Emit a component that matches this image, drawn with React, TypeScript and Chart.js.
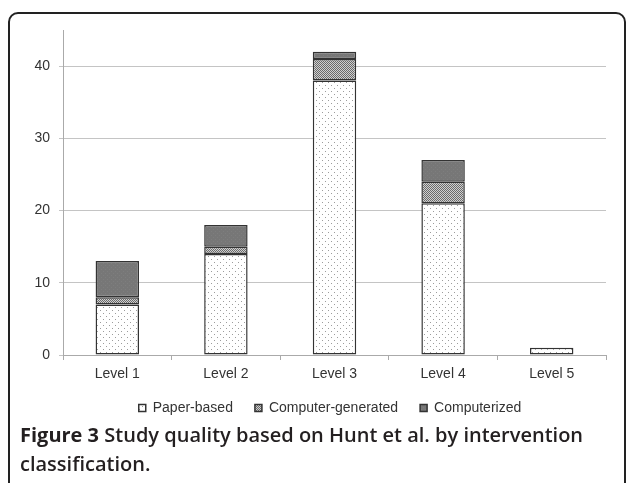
import React, { useEffect, useRef } from "react";
import { Chart, registerables } from "chart.js";

Chart.register(...registerables);

const categories = ["Level 1", "Level 2", "Level 3", "Level 4", "Level 5"];
const paperBased = [7, 14, 38, 21, 1];
const computerGenerated = [1, 1, 3, 3, 0];
const computerized = [5, 3, 1, 3, 0];
const yTicks = [0, 10, 20, 30, 40];
const seriesNames = ["Paper-based", "Computer-generated", "Computerized"];
const captionBold = "Figure 3";
const captionRest = "Study quality based on Hunt et al. by intervention classification.";

function makePattern(kind: string): CanvasPattern | string {
  const c = document.createElement("canvas");
  const ctx = c.getContext("2d");
  if (!ctx) return "#999";
  if (kind === "dots") {
    c.width = 6;
    c.height = 6;
    ctx.fillStyle = "#ffffff";
    ctx.fillRect(0, 0, 6, 6);
    ctx.fillStyle = "#9c9c9c";
    ctx.fillRect(1, 1, 1, 1);
    ctx.fillRect(4, 4, 1, 1);
  } else if (kind === "zigzag") {
    c.width = 4;
    c.height = 4;
    ctx.fillStyle = "#d0d0d0";
    ctx.fillRect(0, 0, 4, 4);
    ctx.fillStyle = "#6a6a6a";
    ctx.fillRect(0, 0, 1, 1);
    ctx.fillRect(1, 1, 1, 1);
    ctx.fillRect(2, 0, 1, 1);
    ctx.fillRect(3, 1, 1, 1);
    ctx.fillRect(0, 2, 1, 1);
    ctx.fillRect(2, 2, 1, 1);
    ctx.fillRect(1, 3, 1, 1);
    ctx.fillRect(3, 3, 1, 1);
  } else {
    c.width = 4;
    c.height = 4;
    ctx.fillStyle = "#777777";
    ctx.fillRect(0, 0, 4, 4);
    ctx.fillStyle = "#7e7e7e";
    ctx.fillRect(1, 1, 1, 1);
    ctx.fillRect(3, 3, 1, 1);
  }
  return ctx.createPattern(c, "repeat") || "#999";
}

const legendShift = {
  id: "legendShift",
  afterLayout(chart: any) {
    const l = chart.legend;
    if (l) {
      l.left += 27;
      l.right += 27;
    }
  },
};

export default function App() {
  const ref = useRef<HTMLCanvasElement | null>(null);

  useEffect(() => {
    if (!ref.current) return;
    const border = "#333333";
    const font = { family: "'Liberation Sans', Arial, sans-serif", size: 14 };
    const chart = new Chart(ref.current, {
      type: "bar",
      data: {
        labels: categories,
        datasets: [
          {
            label: seriesNames[0],
            data: paperBased,
            backgroundColor: makePattern("dots") as any,
            borderColor: border,
            borderWidth: 1.5,
            borderSkipped: false,
          },
          {
            label: seriesNames[1],
            data: computerGenerated,
            backgroundColor: makePattern("zigzag") as any,
            borderColor: border,
            borderWidth: 1.5,
            borderSkipped: false,
          },
          {
            label: seriesNames[2],
            data: computerized,
            backgroundColor: makePattern("solid") as any,
            borderColor: border,
            borderWidth: 1.5,
            borderSkipped: false,
          },
        ],
      },
      plugins: [legendShift],
      options: {
        responsive: false,
        animation: false,
        events: [],
        datasets: { bar: { categoryPercentage: 1, barPercentage: 0.4 } },
        layout: { padding: { top: 30, left: 0, right: 23, bottom: 58 } },
        plugins: {
          tooltip: { enabled: false },
          legend: {
            position: "bottom",
            labels: {
              boxWidth: 7,
              boxHeight: 7,
              padding: 22,
              color: "#333333",
              font,
            },
          },
        },
        scales: {
          x: {
            stacked: true,
            offset: true,
            afterFit: (axis: any) => {
              axis.height = 24;
            },
            grid: {
              display: true,
              drawOnChartArea: false,
              drawTicks: true,
              tickLength: 5,
              offset: true,
              color: "#aaaaaa",
            },
            border: { display: true, color: "#aaaaaa", width: 1 },
            ticks: {
              color: "#333333",
              padding: 6,
              font,
            },
          },
          y: {
            stacked: true,
            min: 0,
            max: 45,
            afterBuildTicks: (axis: any) => {
              axis.ticks = yTicks.map((v) => ({ value: v }));
            },
            afterFit: (axis: any) => {
              axis.width = 63;
            },
            grid: {
              color: "#c4c4c4",
              drawTicks: true,
              tickLength: 4,
            },
            border: { display: true, color: "#aaaaaa", width: 1 },
            ticks: {
              color: "#333333",
              padding: 9,
              font,
            },
          },
        },
      },
    });
    return () => chart.destroy();
  }, []);

  return (
    <div
      style={{
        position: "fixed",
        left: 0,
        top: 0,
        width: 629,
        height: 483,
        background: "#ffffff",
        overflow: "hidden",
      }}
    >
      <div
        style={{
          position: "absolute",
          left: 8,
          top: 12,
          width: 614,
          height: 520,
          border: "2px solid #222222",
          borderRadius: 10,
          boxSizing: "content-box",
        }}
      />
      <canvas
        ref={ref}
        width={629}
        height={483}
        style={{ position: "absolute", left: 0, top: 0, width: 629, height: 483 }}
      />
      <div
        style={{
          position: "absolute",
          left: 20,
          top: 420,
          width: 596,
          fontFamily: "'Open Sans', sans-serif",
          fontSize: 20,
          lineHeight: "29px",
          color: "#231f20",
          fontWeight: 600,
        }}
      >
        <span style={{ fontWeight: 700 }}>{captionBold}</span> {captionRest}
      </div>
    </div>
  );
}
